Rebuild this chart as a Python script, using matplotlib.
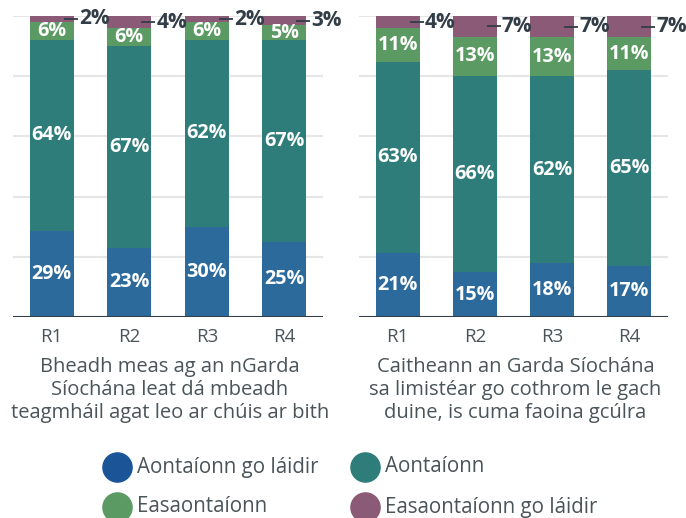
import matplotlib
matplotlib.use("Agg")
import matplotlib.pyplot as plt
from matplotlib.lines import Line2D

plt.rcParams['font.family'] = ['Open Sans', 'DejaVu Sans']

categories = ["R1", "R2", "R3", "R4"]
series_names = ["Aontaíonn go láidir", "Aontaíonn", "Easaontaíonn", "Easaontaíonn go láidir"]
colors = ["#2d6a9c", "#2f7d7a", "#5b9a62", "#8b5a76"]
legend_colors = ["#1b5597", "#2f7d7a", "#5b9a62", "#8b5a76"]

left_strong_agree = [29, 23, 30, 25]
left_agree = [64, 67, 62, 67]
left_disagree = [6, 6, 6, 5]
left_strong_disagree = [2, 4, 2, 3]

right_strong_agree = [21, 15, 18, 17]
right_agree = [63, 66, 62, 65]
right_disagree = [11, 13, 13, 11]
right_strong_disagree = [4, 7, 7, 7]

left_title = "Bheadh meas ag an nGarda\nSíochána leat dá mbeadh\nteagmháil agat leo ar chúis ar bith"
right_title = "Caitheann an Garda Síochána\nsa limistéar go cothrom le gach\nduine, is cuma faoina gcúlra"

W, H = 686, 518
fig = plt.figure(figsize=(W / 100, H / 100), dpi=100)

dark = "#333d47"
tick_col = "#4a5459"


def panel(x0, x1, series, title):
    ax = fig.add_axes([x0 / W, (H - 317) / H, (x1 - x0) / W, 301 / H])
    ax.set_xlim(-0.5, 3.5)
    ax.set_ylim(0, 100)
    for y in range(20, 101, 20):
        ax.axhline(y, color="#e6e6e6", lw=1.5, zorder=0)
    x = list(range(len(categories)))
    totals = [sum(s[i] for s in series) for i in x]
    bottoms = [0.0] * len(categories)
    for si, vals in enumerate(series):
        heights = [v / t * 100 for v, t in zip(vals, totals)]
        ax.bar(x, heights, bottom=bottoms, width=0.57, color=colors[si], zorder=2)
        for i, v in enumerate(vals):
            yc = bottoms[i] + heights[i] / 2
            if si < 3:
                ax.text(i, yc, f"{v}%", ha="center", va="center", color="white",
                        fontsize=14.2, fontweight="bold", zorder=4)
            else:
                ax.plot([i + 0.155, i + 0.335], [yc, yc], color=dark, lw=1.3,
                        zorder=4, clip_on=False, solid_capstyle="butt")
                ax.text(i + 0.35, yc, f"{v}%", ha="left", va="center", color=dark,
                        fontsize=15, fontweight="bold", zorder=4, clip_on=False)
        bottoms = [b + h for b, h in zip(bottoms, heights)]
    ax.axhline(0, color=dark, lw=1.5, zorder=3)
    for s in ax.spines.values():
        s.set_visible(False)
    ax.set_yticks([])
    ax.set_xticks(x)
    ax.set_xticklabels(categories, fontsize=13.5, color=tick_col)
    ax.tick_params(axis="x", length=0, pad=8)
    cx = (x0 + x1) / 2 + 2
    fig.text(cx / W, 1 - 357 / H, title, ha="center", va="top", fontsize=14.5,
             color=tick_col, linespacing=1.2)
    return ax


panel(13, 323, [left_strong_agree, left_agree, left_disagree, left_strong_disagree], left_title)
panel(359, 668, [right_strong_agree, right_agree, right_disagree, right_strong_disagree], right_title)

# legend (manual layout)
leg_pos = [(117, 467), (365, 467), (117, 507), (365, 507)]
for (px, py), name, c in zip(leg_pos, series_names, legend_colors):
    fig.add_artist(Line2D([px / W], [1 - py / H], transform=fig.transFigure, marker="o",
                          ls="none", markersize=21, markerfacecolor=c, markeredgecolor=c))
    fig.text((px + 20) / W, 1 - py / H, name, ha="left", va="center", fontsize=14.8,
             color=tick_col)

fig.savefig("out.png", dpi=100)
